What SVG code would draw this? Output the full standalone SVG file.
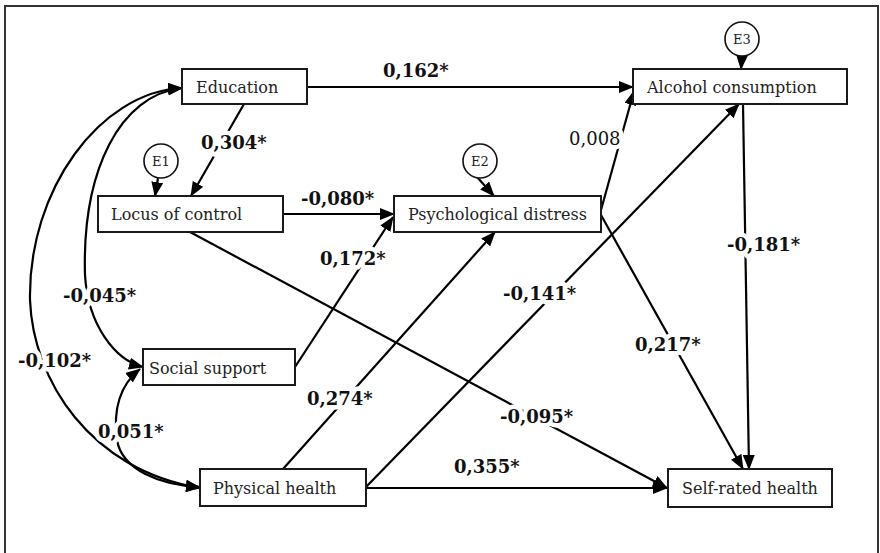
<svg xmlns="http://www.w3.org/2000/svg" width="880" height="553" viewBox="0 0 880 553">
<style>
.box{fill:#fff;stroke:#1a1a1a;stroke-width:2}
.err{fill:#fff;stroke:#111;stroke-width:1.6}
.nt{font-family:"DejaVu Serif","Liberation Serif",serif;font-size:16px;fill:#222}
.et{font-family:"DejaVu Serif","Liberation Serif",serif;font-size:13px;fill:#222}
.lbl{font-family:"DejaVu Serif","Liberation Serif",serif;font-size:18px;font-weight:bold;fill:#111;stroke:#fff;stroke-width:9;stroke-linejoin:round;paint-order:stroke}
.lbn{font-weight:normal}
.c{fill:none;stroke:#000;stroke-width:2.2}
.a{marker-end:url(#ah)}
.d{marker-start:url(#ah);marker-end:url(#ah)}
</style>
<defs>
<marker id="ah" markerUnits="userSpaceOnUse" markerWidth="15" markerHeight="12" refX="14" refY="6" orient="auto-start-reverse">
<path d="M0,0 L15,6 L0,12 Z" fill="#000"/>
</marker>
</defs>
<rect x="5" y="6" width="873" height="560" fill="#fff" stroke="#333" stroke-width="2"/>
<g id="connectors">
<line class="c a" x1="307" y1="87" x2="633" y2="87"/>
<line class="c a" x1="244" y1="104" x2="191" y2="196"/>
<line class="c a" x1="283" y1="214" x2="394" y2="214"/>
<line class="c a" x1="295" y1="367" x2="393" y2="217"/>
<line class="c a" x1="190" y1="232" x2="667" y2="488"/>
<line class="c a" x1="283" y1="469" x2="495" y2="232"/>
<line class="c a" x1="366" y1="487" x2="739" y2="104"/>
<line class="c a" x1="366" y1="488" x2="667" y2="488"/>
<line class="c a" x1="601" y1="210" x2="634" y2="91"/>
<line class="c a" x1="601" y1="215" x2="743" y2="469"/>
<line class="c a" x1="743" y1="104" x2="749" y2="469"/>
<line class="c a" x1="158" y1="178" x2="155" y2="196"/>
<line class="c a" x1="477" y1="177" x2="494" y2="196"/>
<line class="c a" x1="742" y1="56" x2="741" y2="69"/>
<path class="c d" d="M182,88 C100,92 28,190 30,300 C33,380 90,470 200,488"/>
<path class="c d" d="M182,88 C120,95 82,170 85,275 C88,325 115,360 143,367"/>
<path class="c d" d="M140,369 C120,385 113,410 117,440 C122,470 160,485 200,487"/>
</g>
<g id="education"><rect class="box" x="182" y="69" width="125" height="35"/><text class="nt" x="196" y="93">Education</text></g>
<g id="locus"><rect class="box" x="98" y="196" width="185" height="36"/><text class="nt" x="111" y="220">Locus of control</text></g>
<g id="psych"><rect class="box" x="394" y="196" width="207" height="36"/><text class="nt" x="408" y="220">Psychological distress</text></g>
<g id="alcohol"><rect class="box" x="633" y="69" width="214" height="35"/><text class="nt" x="647" y="93">Alcohol consumption</text></g>
<g id="social"><rect class="box" x="143" y="349" width="152" height="36"/><text class="nt" x="149" y="374">Social support</text></g>
<g id="physical"><rect class="box" x="200" y="469" width="166" height="37"/><text class="nt" x="213" y="494">Physical health</text></g>
<g id="selfrated"><rect class="box" x="668" y="469" width="164" height="38"/><text class="nt" x="682" y="494">Self-rated health</text></g>
<g id="e1"><circle class="err" cx="161" cy="161" r="17"/><text class="et" x="161" y="166" text-anchor="middle">E1</text></g>
<g id="e2"><circle class="err" cx="480" cy="161" r="17"/><text class="et" x="480" y="166" text-anchor="middle">E2</text></g>
<g id="e3"><circle class="err" cx="742" cy="39" r="17"/><text class="et" x="742" y="44" text-anchor="middle">E3</text></g>
<g id="labels">
<text class="lbl" x="383" y="77">0,162*</text>
<text class="lbl" x="201" y="149">0,304*</text>
<text class="lbl" x="301" y="205">-0,080*</text>
<text class="lbl" x="320" y="265">0,172*</text>
<text class="lbl" x="63" y="302">-0,045*</text>
<text class="lbl" x="18" y="367">-0,102*</text>
<text class="lbl" x="98" y="438">0,051*</text>
<text class="lbl" x="307" y="405">0,274*</text>
<text class="lbl" x="503" y="300">-0,141*</text>
<text class="lbl" x="635" y="351">0,217*</text>
<text class="lbl" x="500" y="423">-0,095*</text>
<text class="lbl" x="454" y="473">0,355*</text>
<text class="lbl" x="727" y="251">-0,181*</text>
<text class="lbl lbn" x="569" y="145">0,008</text>
</g>
</svg>
